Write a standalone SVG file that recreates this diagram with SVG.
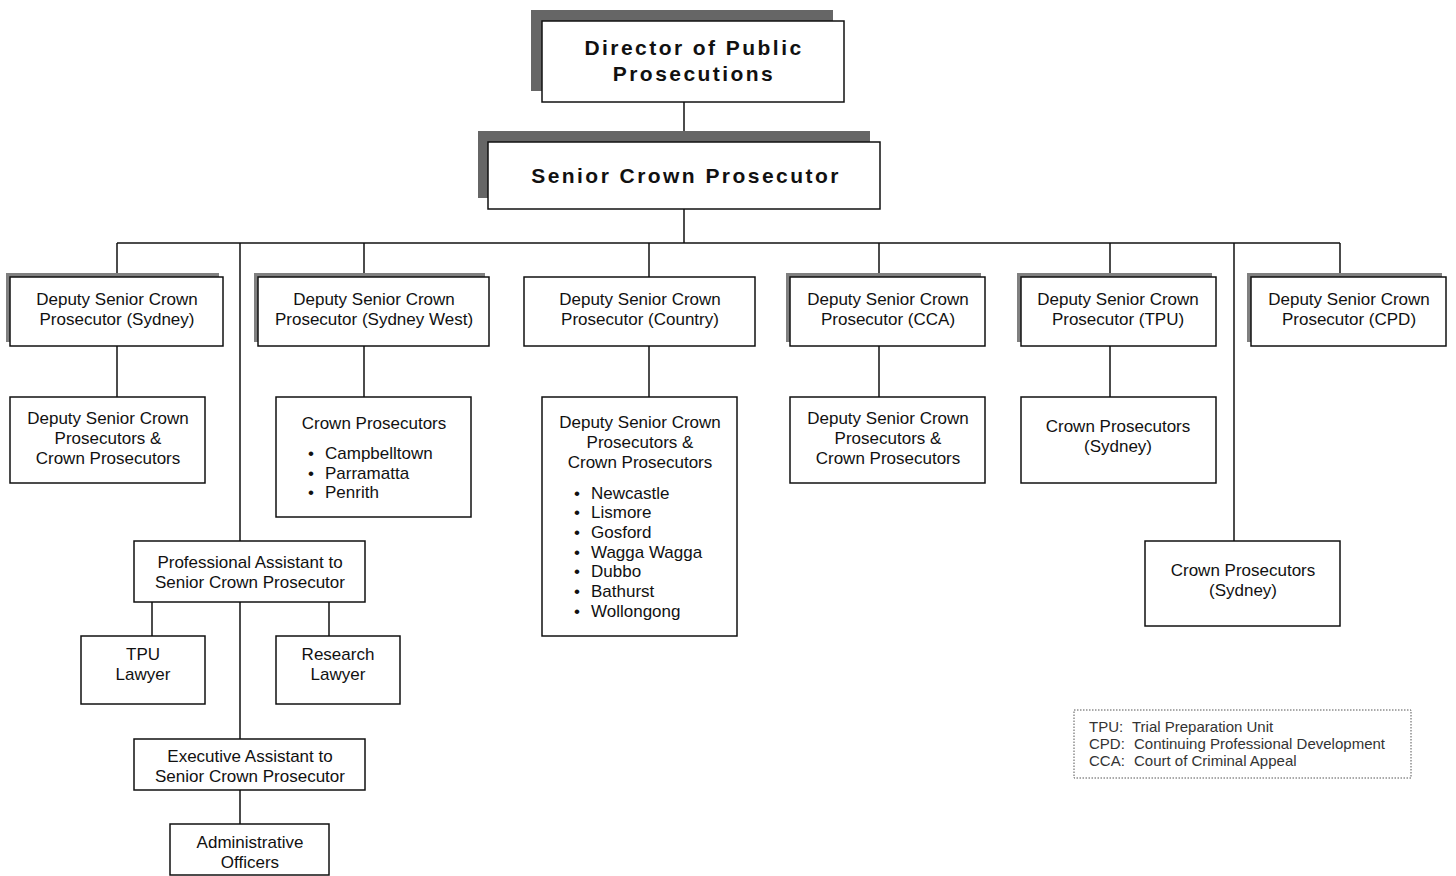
<svg xmlns="http://www.w3.org/2000/svg" width="1456" height="876" viewBox="0 0 1456 876">
<style>
.bx{fill:#fff;stroke:#111;stroke-width:1.5}
.sh{fill:#666}
.sh2{fill:#808080}
.t{font-family:"Liberation Sans",Arial,sans-serif;font-size:17px;fill:#111;text-anchor:middle}
.l{font-family:"Liberation Sans",Arial,sans-serif;font-size:17px;fill:#111}
.h{font-family:"Liberation Sans",Arial,sans-serif;font-size:21px;font-weight:bold;letter-spacing:2.45px;fill:#111;text-anchor:middle}
.c{fill:none;stroke:#111;stroke-width:1.5}
.lg{font-family:"Liberation Sans",Arial,sans-serif;font-size:15px;fill:#333}
</style>
<rect width="1456" height="876" fill="#fff"/>
<g id="connectors" class="c">
<line x1="684" y1="102" x2="684" y2="142"/>
<line x1="684" y1="209" x2="684" y2="243"/>
<line x1="117" y1="243" x2="1340" y2="243"/>
<line x1="117" y1="243" x2="117" y2="277"/>
<line x1="364" y1="243" x2="364" y2="277"/>
<line x1="649" y1="243" x2="649" y2="277"/>
<line x1="879" y1="243" x2="879" y2="277"/>
<line x1="1110" y1="243" x2="1110" y2="277"/>
<line x1="1340" y1="243" x2="1340" y2="277"/>
<line x1="117" y1="346" x2="117" y2="397"/>
<line x1="364" y1="346" x2="364" y2="397"/>
<line x1="649" y1="346" x2="649" y2="397"/>
<line x1="879" y1="346" x2="879" y2="397"/>
<line x1="1110" y1="346" x2="1110" y2="397"/>
<line x1="1234" y1="243" x2="1234" y2="541"/>
<line x1="240" y1="243" x2="240" y2="541"/>
<line x1="240" y1="602" x2="240" y2="739"/>
<line x1="152" y1="602" x2="152" y2="636"/>
<line x1="329" y1="602" x2="329" y2="636"/>
<line x1="240" y1="790" x2="240" y2="824"/>
</g>
<g id="dpp">
<rect class="sh" x="531" y="10" width="302" height="81"/>
<rect class="bx" x="542" y="21" width="302" height="81"/>
<text class="h" x="694" y="55">Director of Public</text>
<text class="h" x="694" y="81">Prosecutions</text>
</g>
<g id="scp">
<rect class="sh" x="478" y="131" width="392" height="67"/>
<rect class="bx" x="488" y="142" width="392" height="67"/>
<text class="h" x="686" y="183">Senior Crown Prosecutor</text>
</g>
<g id="dscp-sydney">
<rect class="sh2" x="6" y="273" width="213" height="69"/>
<rect class="bx" x="10" y="277" width="213" height="69"/>
<text class="t" x="117" y="305">Deputy Senior Crown</text>
<text class="t" x="117" y="325">Prosecutor (Sydney)</text>
</g>
<g id="dscp-sydney-west">
<rect class="sh2" x="254" y="273" width="231" height="69"/>
<rect class="bx" x="258" y="277" width="231" height="69"/>
<text class="t" x="374" y="305">Deputy Senior Crown</text>
<text class="t" x="374" y="325">Prosecutor (Sydney West)</text>
</g>
<g id="dscp-country">
<rect class="bx" x="524" y="277" width="231" height="69"/>
<text class="t" x="640" y="305">Deputy Senior Crown</text>
<text class="t" x="640" y="325">Prosecutor (Country)</text>
</g>
<g id="dscp-cca">
<rect class="sh2" x="786" y="273" width="195" height="69"/>
<rect class="bx" x="790" y="277" width="195" height="69"/>
<text class="t" x="888" y="305">Deputy Senior Crown</text>
<text class="t" x="888" y="325">Prosecutor (CCA)</text>
</g>
<g id="dscp-tpu">
<rect class="sh2" x="1017" y="273" width="195" height="69"/>
<rect class="bx" x="1021" y="277" width="195" height="69"/>
<text class="t" x="1118" y="305">Deputy Senior Crown</text>
<text class="t" x="1118" y="325">Prosecutor (TPU)</text>
</g>
<g id="dscp-cpd">
<rect class="sh2" x="1247" y="273" width="195" height="69"/>
<rect class="bx" x="1251" y="277" width="195" height="69"/>
<text class="t" x="1349" y="305">Deputy Senior Crown</text>
<text class="t" x="1349" y="325">Prosecutor (CPD)</text>
</g>
<g id="sydney-staff">
<rect class="bx" x="10" y="397" width="195" height="86"/>
<text class="t" x="108" y="424">Deputy Senior Crown</text>
<text class="t" x="108" y="444">Prosecutors &amp;</text>
<text class="t" x="108" y="464">Crown Prosecutors</text>
</g>
<g id="sydney-west-staff">
<rect class="bx" x="276" y="397" width="195" height="120"/>
<text class="t" x="374" y="429">Crown Prosecutors</text>
<text class="l" x="308" y="459">•</text>
<text class="l" x="308" y="479">•</text>
<text class="l" x="308" y="498">•</text>
<text class="l" x="325" y="459">Campbelltown</text>
<text class="l" x="325" y="479">Parramatta</text>
<text class="l" x="325" y="498">Penrith</text>
</g>
<g id="country-staff">
<rect class="bx" x="542" y="397" width="195" height="239"/>
<text class="t" x="640" y="428">Deputy Senior Crown</text>
<text class="t" x="640" y="448">Prosecutors &amp;</text>
<text class="t" x="640" y="468">Crown Prosecutors</text>
<text class="l" x="574" y="499">•</text>
<text class="l" x="574" y="518">•</text>
<text class="l" x="574" y="538">•</text>
<text class="l" x="574" y="558">•</text>
<text class="l" x="574" y="577">•</text>
<text class="l" x="574" y="597">•</text>
<text class="l" x="574" y="617">•</text>
<text class="l" x="591" y="499">Newcastle</text>
<text class="l" x="591" y="518">Lismore</text>
<text class="l" x="591" y="538">Gosford</text>
<text class="l" x="591" y="558">Wagga Wagga</text>
<text class="l" x="591" y="577">Dubbo</text>
<text class="l" x="591" y="597">Bathurst</text>
<text class="l" x="591" y="617">Wollongong</text>
</g>
<g id="cca-staff">
<rect class="bx" x="790" y="397" width="195" height="86"/>
<text class="t" x="888" y="424">Deputy Senior Crown</text>
<text class="t" x="888" y="444">Prosecutors &amp;</text>
<text class="t" x="888" y="464">Crown Prosecutors</text>
</g>
<g id="tpu-staff">
<rect class="bx" x="1021" y="397" width="195" height="86"/>
<text class="t" x="1118" y="432">Crown Prosecutors</text>
<text class="t" x="1118" y="452">(Sydney)</text>
</g>
<g id="cpd-staff">
<rect class="bx" x="1145" y="541" width="195" height="85"/>
<text class="t" x="1243" y="576">Crown Prosecutors</text>
<text class="t" x="1243" y="596">(Sydney)</text>
</g>
<g id="prof-assistant">
<rect class="bx" x="134" y="541" width="231" height="61"/>
<text class="t" x="250" y="568">Professional Assistant to</text>
<text class="t" x="250" y="588">Senior Crown Prosecutor</text>
</g>
<g id="tpu-lawyer">
<rect class="bx" x="81" y="636" width="124" height="68"/>
<text class="t" x="143" y="660">TPU</text>
<text class="t" x="143" y="680">Lawyer</text>
</g>
<g id="research-lawyer">
<rect class="bx" x="276" y="636" width="124" height="68"/>
<text class="t" x="338" y="660">Research</text>
<text class="t" x="338" y="680">Lawyer</text>
</g>
<g id="exec-assistant">
<rect class="bx" x="134" y="739" width="231" height="51"/>
<text class="t" x="250" y="762">Executive Assistant to</text>
<text class="t" x="250" y="782">Senior Crown Prosecutor</text>
</g>
<g id="admin-officers">
<rect class="bx" x="170" y="824" width="159" height="51"/>
<text class="t" x="250" y="848">Administrative</text>
<text class="t" x="250" y="868">Officers</text>
</g>
<g id="legend">
<rect x="1074" y="710" width="337" height="68" fill="#fff" stroke="#555" stroke-width="1" stroke-dasharray="1.5,1.5"/>
<text class="lg" x="1089" y="732">TPU:</text>
<text class="lg" x="1132" y="732">Trial Preparation Unit</text>
<text class="lg" x="1089" y="749">CPD:</text>
<text class="lg" x="1134" y="749">Continuing Professional Development</text>
<text class="lg" x="1089" y="766">CCA:</text>
<text class="lg" x="1134" y="766">Court of Criminal Appeal</text>
</g>
</svg>
